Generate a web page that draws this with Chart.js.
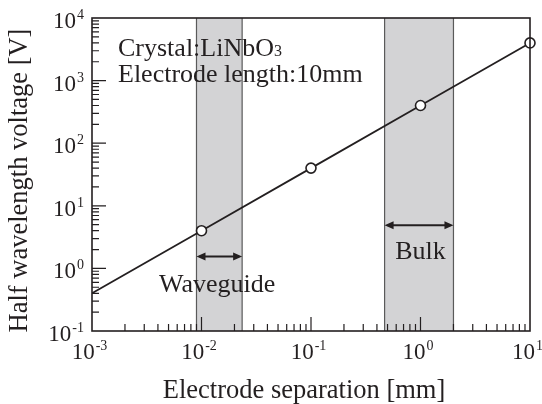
<!doctype html>
<html>
<head>
<meta charset="utf-8">
<title>Half wavelength voltage</title>
<script src="https://cdn.jsdelivr.net/npm/chart.js"></script>
<style>
  html, body { margin: 0; padding: 0; background: #fff; }
  #wrap { width: 542px; height: 404px; }
</style>
</head>
<body>
<div id="wrap"><canvas id="chart" width="542" height="404"></canvas></div>
<script>
// data
const lineX = [0.001, 0.01, 0.1, 1, 10];
const lineY = [0.4, 4, 40, 400, 4000];
const pointX = [0.01, 0.1, 1, 10];
const pointY = [4, 40, 400, 4000];
const xDecades = [-3, -2, -1, 0, 1];
const yDecades = [-1, 0, 1, 2, 3, 4];
const waveguideBand = [0.009, 0.0235];
const bulkBand = [0.47, 2.0];
const waveguideArrowY = 1.55;
const bulkArrowY = 4.9;
const labelWaveguide = { text: 'Waveguide', x: 0.0139, y: 0.54 };
const labelBulk = { text: 'Bulk', x: 1.0, y: 1.85 };
const infoLines = ['Crystal:LiNbO', 'Electrode length:10mm'];
const xTitle = 'Electrode separation [mm]';
const yTitle = 'Half wavelength voltage [V]';

const SERIF = '"Liberation Serif", "DejaVu Serif", serif';
const INK = '#231f20';

function arrow(ctx, x1, x2, y) {
  const h = 9, w = 4;
  ctx.beginPath();
  ctx.moveTo(x1 + 3, y); ctx.lineTo(x2 - 3, y);
  ctx.stroke();
  ctx.beginPath();
  ctx.moveTo(x1, y); ctx.lineTo(x1 + h, y - w); ctx.lineTo(x1 + h, y + w); ctx.closePath();
  ctx.moveTo(x2, y); ctx.lineTo(x2 - h, y - w); ctx.lineTo(x2 - h, y + w); ctx.closePath();
  ctx.fill();
}

function pow10Label(ctx, x, y, exp, align) {
  ctx.font = '23px ' + SERIF;
  const bw = ctx.measureText('10').width;
  ctx.font = '14px ' + SERIF;
  const e = String(exp);
  const ew = ctx.measureText(e).width;
  const left = align === 'right' ? x - bw - ew : x - (bw + ew) / 2;
  ctx.textAlign = 'left';
  ctx.textBaseline = 'alphabetic';
  ctx.font = '23px ' + SERIF;
  ctx.fillText('10', left, y);
  ctx.font = '14px ' + SERIF;
  ctx.fillText(e, left + bw + 1, y - 9);
}

const decor = {
  id: 'decor',
  beforeDatasetsDraw(chart) {
    const { ctx, chartArea: a, scales: { x } } = chart;
    ctx.save();
    [waveguideBand, bulkBand].forEach(b => {
      const x1 = x.getPixelForValue(b[0]), x2 = x.getPixelForValue(b[1]);
      ctx.fillStyle = '#d3d3d5';
      ctx.fillRect(x1, a.top, x2 - x1, a.bottom - a.top);
      ctx.strokeStyle = '#5a5a5a';
      ctx.lineWidth = 1.2;
      ctx.beginPath();
      ctx.moveTo(x1, a.top); ctx.lineTo(x1, a.bottom);
      ctx.moveTo(x2, a.top); ctx.lineTo(x2, a.bottom);
      ctx.stroke();
    });
    ctx.restore();
  },
  afterDatasetsDraw(chart) {
    const { ctx, chartArea: a, scales: { x, y } } = chart;
    ctx.save();
    ctx.strokeStyle = INK;
    ctx.fillStyle = INK;
    ctx.lineWidth = 1.6;
    ctx.strokeRect(a.left, a.top, a.right - a.left, a.bottom - a.top);

    // inward ticks
    ctx.lineWidth = 1.2;
    ctx.beginPath();
    for (let d = -3; d < 1; d++) {
      for (let m = 1; m <= 9; m++) {
        if (m === 1 && d === -3) continue;
        const px = x.getPixelForValue(m * Math.pow(10, d));
        ctx.moveTo(px, a.bottom); ctx.lineTo(px, a.bottom - (m === 1 ? 14 : 7));
      }
    }
    for (let d = -1; d < 4; d++) {
      for (let m = 1; m <= 9; m++) {
        if (m === 1 && d === -1) continue;
        const py = y.getPixelForValue(m * Math.pow(10, d));
        ctx.moveTo(a.left, py); ctx.lineTo(a.left + (m === 1 ? 14 : 7), py);
      }
    }
    ctx.stroke();

    // tick labels
    xDecades.forEach(d => pow10Label(ctx, x.getPixelForValue(Math.pow(10, d)) - 3, a.bottom + 28, d, 'center'));
    yDecades.forEach(d => pow10Label(ctx, a.left - 9, y.getPixelForValue(Math.pow(10, d)) + 10, d, 'right'));

    // axis titles
    ctx.font = '26.5px ' + SERIF;
    ctx.textAlign = 'center';
    ctx.textBaseline = 'alphabetic';
    ctx.fillText(xTitle, (a.left + a.right) / 2 - 7, 398);
    ctx.save();
    ctx.translate(27, (a.top + a.bottom) / 2 + 6);
    ctx.rotate(-Math.PI / 2);
    ctx.fillText(yTitle, 0, 0);
    ctx.restore();

    // arrows
    ctx.lineWidth = 2;
    arrow(ctx, x.getPixelForValue(waveguideBand[0]), x.getPixelForValue(waveguideBand[1]), y.getPixelForValue(waveguideArrowY));
    arrow(ctx, x.getPixelForValue(bulkBand[0]), x.getPixelForValue(bulkBand[1]), y.getPixelForValue(bulkArrowY));

    // texts
    ctx.font = '26px ' + SERIF;
    ctx.textAlign = 'center';
    ctx.textBaseline = 'middle';
    [labelWaveguide, labelBulk].forEach(l => {
      ctx.fillText(l.text, x.getPixelForValue(l.x), y.getPixelForValue(l.y));
    });
    ctx.textAlign = 'left';
    ctx.textBaseline = 'alphabetic';
    const tx = a.left + 26;
    ctx.fillText(infoLines[0], tx, a.top + 38);
    const w0 = ctx.measureText(infoLines[0]).width;
    ctx.font = '16px ' + SERIF;
    ctx.fillText('3', tx + w0, a.top + 38);
    ctx.font = '26px ' + SERIF;
    ctx.fillText(infoLines[1], tx, a.top + 64);
    ctx.restore();
  }
};

new Chart(document.getElementById('chart'), {
  type: 'scatter',
  data: {
    datasets: [
      {
        data: lineX.map((v, i) => ({ x: v, y: lineY[i] })),
        showLine: true,
        borderColor: INK,
        borderWidth: 1.8,
        pointRadius: 0,
        order: 2
      },
      {
        data: pointX.map((v, i) => ({ x: v, y: pointY[i] })),
        pointRadius: 5,
        pointBackgroundColor: '#fff',
        pointBorderColor: INK,
        pointBorderWidth: 1.6,
        clip: false,
        order: 1
      }
    ]
  },
  options: {
    responsive: false,
    animation: false,
    layout: { padding: { top: 18, right: 12, left: 0, bottom: 0 } },
    plugins: { legend: { display: false }, tooltip: { enabled: false } },
    scales: {
      x: {
        type: 'logarithmic',
        min: 0.001, max: 10,
        ticks: { display: false },
        grid: { display: false },
        border: { display: false },
        afterFit(s) { s.height = 73; }
      },
      y: {
        type: 'logarithmic',
        min: 0.1, max: 10000,
        ticks: { display: false },
        grid: { display: false },
        border: { display: false },
        afterFit(s) { s.width = 92; }
      }
    }
  },
  plugins: [decor]
});
</script>
</body>
</html>
